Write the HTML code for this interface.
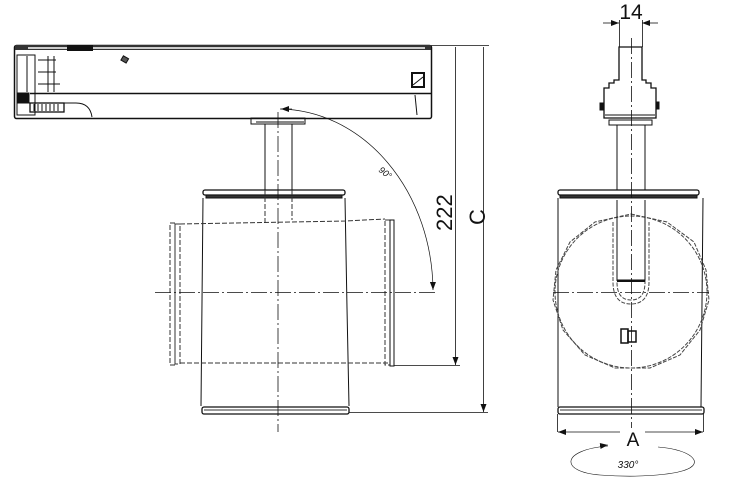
<!DOCTYPE html>
<html><head><meta charset="utf-8"><style>
html,body{margin:0;padding:0;background:#fff;width:750px;height:479px;overflow:hidden}
svg{display:block}
text{font-family:"Liberation Sans","DejaVu Sans",sans-serif;fill:#111}
</style></head><body>
<svg width="750" height="479" viewBox="0 0 750 479" xmlns="http://www.w3.org/2000/svg">
<defs>
<marker id="ar" markerWidth="8" markerHeight="6" refX="8" refY="3" orient="auto" markerUnits="userSpaceOnUse"><path d="M0,0 L8,3 L0,6z" fill="#111"/></marker>
</defs>
<g fill="none" stroke="#111" stroke-width="1">
<!-- LEFT: track housing -->
<rect x="14.5" y="45.5" width="417" height="73" rx="2" stroke-width="1.5"/>
<rect x="15" y="45" width="416" height="5" fill="#333" stroke="none"/>
<line x1="28" y1="48" x2="425" y2="48" stroke="#ccc" stroke-width="2"/>
<rect x="67" y="45" width="26" height="6" fill="#111" stroke="none"/>
<line x1="30" y1="93.5" x2="431" y2="93.5" stroke-width="1.5"/>
<rect x="17" y="55" width="18" height="60" stroke-width="1"/>
<path d="M27 56v36M48 56v36M54 56v36M38 60h18M38 72h18M38 84h22"/>
<rect x="17" y="93" width="12" height="10" fill="#111"/>
<rect x="30" y="103" width="34" height="9" stroke-width="1.3"/>
<path d="M34 104v7M38 104v7M42 104v7M46 104v7M50 104v7M54 104v7M58 104v7"/>
<path d="M64 103h12q14 0 16 14"/>
<rect x="122" y="57" width="6" height="5" transform="rotate(30 125 59)" fill="#555"/>
<rect x="412" y="73" width="12" height="14" stroke-width="2"/>
<path d="M413 85l10-8"/>
<path d="M415 95l2 20"/>
<!-- mount plate -->
<rect x="251" y="118" width="54" height="6"/>
<path d="M256 122h48"/>
<!-- stem -->
<path d="M265 124v68M292 124v68"/>
<!-- head top ring -->
<rect x="203" y="190" width="142" height="5" rx="2" stroke-width="1.3"/>
<rect x="206" y="195" width="136" height="3" fill="#333"/>
<!-- body -->
<path d="M203 198l-2 208M345 198l2 110 2 98"/>
<rect x="202" y="407" width="147" height="7" rx="2" stroke-width="1.3"/>
<line x1="204" y1="410" x2="347" y2="410" stroke="#999" stroke-width="2"/>
<!-- dashed rotated body -->
<g stroke-dasharray="5,2" stroke="#333">
<path d="M180 224l165 -3 40 -2M180 363h210"/>
<path d="M265 190v33M292 190v30"/>
<rect x="170" y="223" width="5" height="142"/>
<rect x="175" y="224" width="5" height="140"/>
<rect x="385" y="220" width="5" height="145"/>
</g>
<rect x="390" y="220" width="4" height="146"/>
<!-- center lines -->
<g stroke-dasharray="16,3,2,3" stroke-width="0.8">
<path d="M278 112v320"/>
<path d="M155 292.5h280"/>
</g>
<!-- 90 arc -->
<path d="M280 109 A155 183 0 0 1 433 290" stroke-width="0.7" marker-end="url(#ar)"/>
<path d="M292 109 L281 109" stroke-width="0.7" marker-end="url(#ar)"/>
<!-- dims 222 & C -->
<g stroke-width="0.8">
<path d="M431 45.5h58M394 365.5h66M349 412.5h139"/>
<path d="M455.5 47v318" marker-end="url(#ar)"/>
<path d="M483.5 47v365" marker-end="url(#ar)"/>
</g>

<!-- RIGHT VIEW -->
<path d="M619 47h23v33h4v3h5v5h5v30h-52v-30h5v-5h5v-3h5z" stroke-width="1.3"/>
<rect x="600" y="103" width="3" height="7" fill="#111"/>
<rect x="656" y="102" width="3" height="7" fill="#111"/>
<path d="M605 115h50"/>
<rect x="609" y="120" width="43" height="5"/>
<path d="M617 125v65M645 125v65"/>
<rect x="558" y="190" width="141" height="5" rx="2" stroke-width="1.3"/>
<rect x="560" y="195" width="137" height="3" fill="#333"/>
<path d="M558 198v209M703 198l-2 209"/>
<rect x="558" y="407" width="146" height="7" rx="2" stroke-width="1.3"/>
<line x1="560" y1="410" x2="702" y2="410" stroke="#999" stroke-width="2"/>
<g stroke="#444" stroke-dasharray="4,1.5">
<circle cx="631" cy="292" r="76"/>
<polygon points="631,214 667,222 694,242 706,270 709,300 700,330 680,355 650,368 615,368 585,355 563,330 553,300 556,270 570,242 595,222" />
<path d="M613 222v60q0 22 18 22q18 0 18 -22v-60"/>
<path d="M617 222v60q0 18 14 18q14 0 14 -18v-60"/>
</g>
<path d="M617 200v80h28v-80" stroke-width="1"/>
<path d="M617 281h28" stroke-width="2"/>
<rect x="621" y="329" width="7" height="14" stroke-width="1.5"/>
<rect x="628" y="331" width="8" height="11" stroke-width="1.5"/>
<g stroke-dasharray="16,3,2,3" stroke-width="0.8">
<path d="M631.5 38v390"/>
<path d="M553 292.5h156"/>
</g>
<!-- 14 dim -->
<g stroke-width="0.8">
<path d="M619.5 20v27M642.5 20v27"/>
<path d="M603 23h16" marker-end="url(#ar)"/>
<path d="M658 23h-16" marker-end="url(#ar)"/>
<path d="M557.5 414v18M703.5 414v18"/>
<path d="M620 432h-62" marker-end="url(#ar)"/>
<path d="M645 432h58" marker-end="url(#ar)"/>
<path d="M608 446 C560 450 560 472 600 475 C640 478 700 475 694 460 C690 452 672 448 658 447" stroke-width="0.6"/>
<path d="M600 446 l8 -1" marker-end="url(#ar)" stroke-width="0.6"/>
</g>
</g>
<text x="631" y="19" font-size="21" text-anchor="middle">14</text>
<text x="633" y="446" font-size="19" text-anchor="middle">A</text>
<text x="628" y="468" font-size="10" font-style="italic" text-anchor="middle" fill="#333">330°</text>
<text x="0" y="0" font-size="22" transform="translate(452 231) rotate(-90)">222</text>
<text x="0" y="0" font-size="22" transform="translate(485 225) rotate(-90)">C</text>
<text x="0" y="0" font-size="9" font-style="italic" transform="translate(378 171) rotate(38)">90°</text>
</svg>
</body></html>
